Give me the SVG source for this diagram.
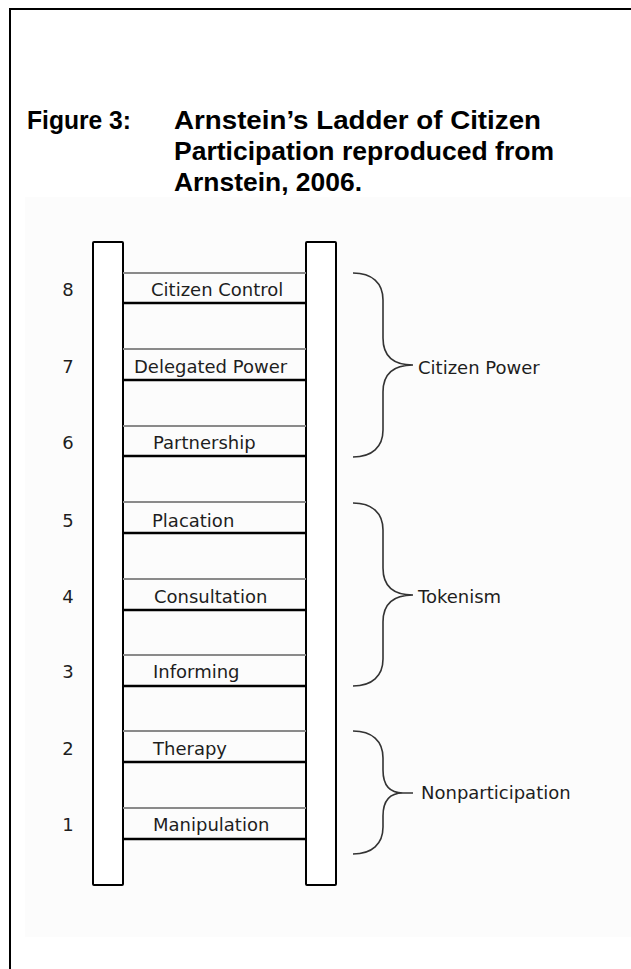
<svg xmlns="http://www.w3.org/2000/svg" width="631" height="969" viewBox="0 0 631 969">
<style>
.title{font-family:"Liberation Sans",Arial,sans-serif;font-weight:bold;font-size:26.5px;fill:#000}
.lbl{font-family:"DejaVu Sans",sans-serif;font-size:18px;fill:#1e1e1e}
.num{font-family:"DejaVu Sans",sans-serif;font-size:18px;fill:#1e1e1e;text-anchor:middle}
.rail{fill:#fff;stroke:#000;stroke-width:2}
.rg{stroke:#8a8a8a;stroke-width:2}
.rb{stroke:#000;stroke-width:2.5}
.brace{fill:none;stroke:#333;stroke-width:1.6}
</style>
<rect x="0" y="0" width="631" height="969" fill="#fff"/>
<path d="M10,969 V9 H631" fill="none" stroke="#000" stroke-width="2"/>
<g id="title">
<text class="title" x="27" y="129" textLength="104" lengthAdjust="spacingAndGlyphs">Figure 3:</text>
<text class="title" x="174" y="129" textLength="367" lengthAdjust="spacingAndGlyphs">Arnstein’s Ladder of Citizen</text>
<text class="title" x="174" y="160" textLength="380" lengthAdjust="spacingAndGlyphs">Participation reproduced from</text>
<text class="title" x="174" y="191" textLength="188" lengthAdjust="spacingAndGlyphs">Arnstein, 2006.</text>
</g>
<rect x="25" y="197" width="606" height="740" fill="#fcfcfc"/>
<g id="rails">
<rect class="rail" x="93" y="242" width="30" height="643" rx="1"/>
<rect class="rail" x="306" y="242" width="30" height="643" rx="1"/>
</g>
<g id="rung8"><line class="rg" x1="123" y1="273" x2="306" y2="273"/><line class="rb" x1="123" y1="303" x2="306" y2="303"/><text class="num" x="68" y="296">8</text><text class="lbl" x="151" y="296">Citizen Control</text></g>
<g id="rung7"><line class="rg" x1="123" y1="349" x2="306" y2="349"/><line class="rb" x1="123" y1="380" x2="306" y2="380"/><text class="num" x="68" y="373">7</text><text class="lbl" x="134" y="373">Delegated Power</text></g>
<g id="rung6"><line class="rg" x1="123" y1="426" x2="306" y2="426"/><line class="rb" x1="123" y1="456" x2="306" y2="456"/><text class="num" x="68" y="449">6</text><text class="lbl" x="153" y="449">Partnership</text></g>
<g id="rung5"><line class="rg" x1="123" y1="502" x2="306" y2="502"/><line class="rb" x1="123" y1="533" x2="306" y2="533"/><text class="num" x="68" y="527">5</text><text class="lbl" x="152" y="527">Placation</text></g>
<g id="rung4"><line class="rg" x1="123" y1="579" x2="306" y2="579"/><line class="rb" x1="123" y1="610" x2="306" y2="610"/><text class="num" x="68" y="603">4</text><text class="lbl" x="154" y="603">Consultation</text></g>
<g id="rung3"><line class="rg" x1="123" y1="655" x2="306" y2="655"/><line class="rb" x1="123" y1="686" x2="306" y2="686"/><text class="num" x="68" y="678">3</text><text class="lbl" x="153" y="678">Informing</text></g>
<g id="rung2"><line class="rg" x1="123" y1="731" x2="306" y2="731"/><line class="rb" x1="123" y1="762" x2="306" y2="762"/><text class="num" x="68" y="755">2</text><text class="lbl" x="153" y="755">Therapy</text></g>
<g id="rung1"><line class="rg" x1="123" y1="808" x2="306" y2="808"/><line class="rb" x1="123" y1="839" x2="306" y2="839"/><text class="num" x="68" y="831">1</text><text class="lbl" x="153" y="831">Manipulation</text></g>
<g id="group-citizen-power">
<path class="brace" d="M353,273 C372,273 383,283 383,300 L383,338 C383,356 393,365 413,365 C393,365 383,374 383,392 L383,430 C383,447 372,457 353,457"/>
<text class="lbl" x="418" y="374">Citizen Power</text>
</g>
<g id="group-tokenism">
<path class="brace" d="M353,503 C372,503 383,513 383,530 L383,568 C383,586 393,595 413,595 C393,595 383,604 383,622 L383,659 C383,676 372,686 353,686"/>
<text class="lbl" x="418" y="603">Tokenism</text>
</g>
<g id="group-nonparticipation">
<path class="brace" d="M353,731 C372,731 383,741 383,758 L383,770 C383,785 390,793 403,793 L413,793 M403,793 C390,793 383,801 383,816 L383,827 C383,844 372,854 353,854"/>
<text class="lbl" x="421" y="799">Nonparticipation</text>
</g>
</svg>
